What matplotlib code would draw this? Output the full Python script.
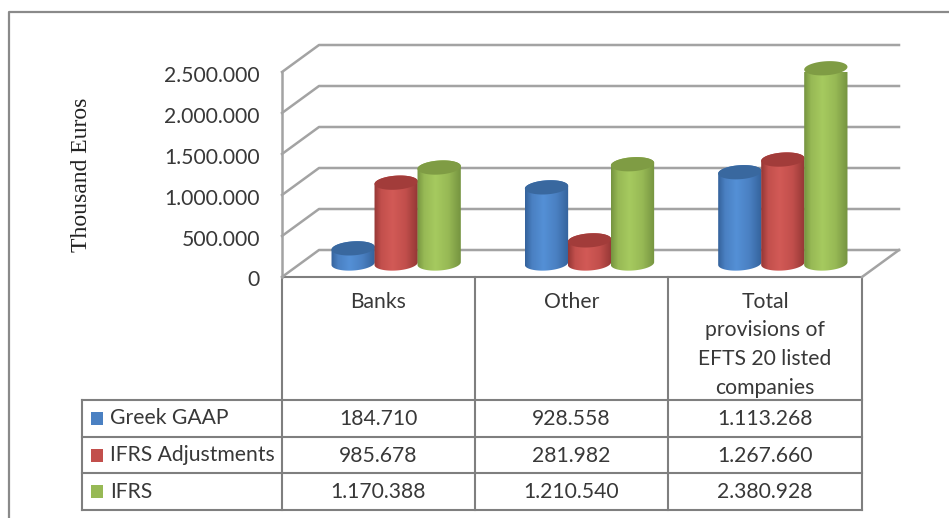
import numpy as np
import matplotlib
matplotlib.use("Agg")
import matplotlib.pyplot as plt
from matplotlib.colors import LinearSegmentedColormap
from matplotlib.patches import Polygon
from matplotlib.transforms import ScaledTranslation

# data
categories = ["Banks", "Other", "Total\nprovisions of\nEFTS 20 listed\ncompanies"]
series_names = ["Greek GAAP", "IFRS Adjustments", "IFRS"]
greek_gaap = [184710, 928558, 1113268]
ifrs_adjustments = [985678, 281982, 1267660]
ifrs = [1170388, 1210540, 2380928]
y_ticks = [0, 500000, 1000000, 1500000, 2000000, 2500000]

W, H = 949, 518
GRID = "#a3a3a3"
TABLE = "#7f7f7f"
TEXT = "#383838"
FONT = "Lato"
FS = 15.2

# per series: edge shade, body, highlight, top cap
shades = [
    ("#34629b", "#4a80c2", "#5490d6", "#39689f"),
    ("#943735", "#c24f4c", "#d25a56", "#a23c3a"),
    ("#759340", "#97b955", "#a6ca5f", "#7f9c44"),
]


def dots(v):
    return f"{v:,}".replace(",", ".")


fig = plt.figure(figsize=(W / 100, H / 100), dpi=100)

# pixel overlay for the frame and the table
over = fig.add_axes([0, 0, 1, 1], zorder=0)
over.set_xlim(0, W)
over.set_ylim(H, 0)
over.axis("off")

over.plot([9, 9, W], [H, 12, 12], color="#8a8a8a", lw=1.6)
over.text(82, 175, "Thousand Euros", rotation=90, ha="center", va="center",
          family="Liberation Serif", fontsize=17, color="#222222")

col_x = [282, 475, 668, 862]
row_y = [400, 437, 473, 510]
over.plot([col_x[0], col_x[-1]], [277, 277], color=TABLE, lw=1.5)
for x in col_x:
    over.plot([x, x], [277, row_y[-1]], color=TABLE, lw=1.5)
for y in row_y:
    over.plot([82, col_x[-1]], [y, y], color=TABLE, lw=1.5)
over.plot([82, 82], [row_y[0], row_y[-1]], color=TABLE, lw=1.5)

rows = [greek_gaap, ifrs_adjustments, ifrs]
for i, cat in enumerate(categories):
    cx = (col_x[i] + col_x[i + 1]) / 2
    for j, line in enumerate(cat.split("\n")):
        over.text(cx, 302 + j * 28.5, line, ha="center", va="center",
                  family=FONT, fontsize=FS, color=TEXT)
    for r, vals in enumerate(rows):
        over.text(cx, (row_y[r] + row_y[r + 1]) / 2 + 0.5, dots(vals[i]), ha="center",
                  va="center", family=FONT, fontsize=FS, color=TEXT)

for r, name in enumerate(series_names):
    cy = (row_y[r] + row_y[r + 1]) / 2
    over.add_patch(plt.Rectangle((91, cy - 6.5), 12.5, 13, color=shades[r][1], lw=0))
    over.text(110, cy, name, ha="left", va="center", family=FONT,
              fontsize=FS, color=TEXT)

# chart axes: its box is the front plane of the 3D look
ax = fig.add_axes([282 / W, 1 - 277 / H, 580 / W, 205 / H], zorder=1)
ax.patch.set_alpha(0)
for s in ax.spines.values():
    s.set_visible(False)

px_x = 580 / 3                 # pixels per category
px_y = 205 / max(y_ticks)      # pixels per euro
depth_x = 37 / px_x
depth_y = 27 / px_y

# walls and gridlines
for v in y_ticks:
    ax.plot([0, depth_x, 3 + depth_x], [v, v + depth_y, v + depth_y],
            color=GRID, lw=1.8, clip_on=False, zorder=1)
ax.plot([0, 0], [0, max(y_ticks)], color=GRID, lw=1.8, clip_on=False, zorder=1)
ax.plot([3, 3 + depth_x], [0, depth_y], color=GRID, lw=1.8, clip_on=False, zorder=1)


def ring(cx, cy, a=21.7, b=7.0, tilt=4, t0=0.0, t1=2 * np.pi):
    # ellipse worked out in pixels, handed back in data units
    t = np.linspace(t0, t1, 60)
    ex, ey = a * np.cos(t), b * np.sin(t)
    rot = np.radians(tilt)
    return np.column_stack([
        cx + (ex * np.cos(rot) - ey * np.sin(rot)) / px_x,
        cy + (ex * np.sin(rot) + ey * np.cos(rot)) / px_y,
    ])


def cylinder(cx, value, colors, z):
    base_y = depth_y * 0.5
    a = 21.7
    lower = ring(cx, base_y, t0=np.pi, t1=2 * np.pi)
    upper = ring(cx, base_y + value, t0=0, t1=np.pi)
    body = Polygon(np.vstack([lower, upper]), closed=True, fc="none", ec="none", zorder=z)
    ax.add_patch(body)
    cmap = LinearSegmentedColormap.from_list(
        "c", [(0, colors[0]), (0.16, colors[1]), (0.42, colors[2]),
              (0.72, colors[1]), (1, colors[0])])
    img = ax.imshow(np.linspace(0, 1, 128).reshape(1, -1), cmap=cmap, aspect="auto",
                    extent=[cx - a / px_x, cx + a / px_x, 0, base_y + value + depth_y],
                    zorder=z)
    img.set_clip_path(body)
    ax.add_patch(Polygon(ring(cx, base_y + value), closed=True, fc=colors[3],
                         ec="none", zorder=z + 0.1, clip_on=False))


bar_step = 43 / px_x
for c in range(len(categories)):
    center = c + 0.5 + depth_x * 0.5 - 1 / px_x
    for s, vals in enumerate(rows):
        cylinder(center + (s - 1) * bar_step, vals[c], shades[s], 3 + s)

ax.set_xlim(0, 3)
ax.set_ylim(0, max(y_ticks))
ax.set_xticks([])
ax.set_yticks(y_ticks)
ax.set_yticklabels([dots(v) for v in y_ticks], family=FONT, fontsize=FS, color=TEXT)
ax.tick_params(axis="y", length=0, pad=16)
# labels sit a little under their ticks in the original
nudge = ScaledTranslation(0, -1.5 / 100, fig.dpi_scale_trans)
for lab in ax.get_yticklabels():
    lab.set_transform(lab.get_transform() + nudge)

fig.savefig("out.png", dpi=100)
